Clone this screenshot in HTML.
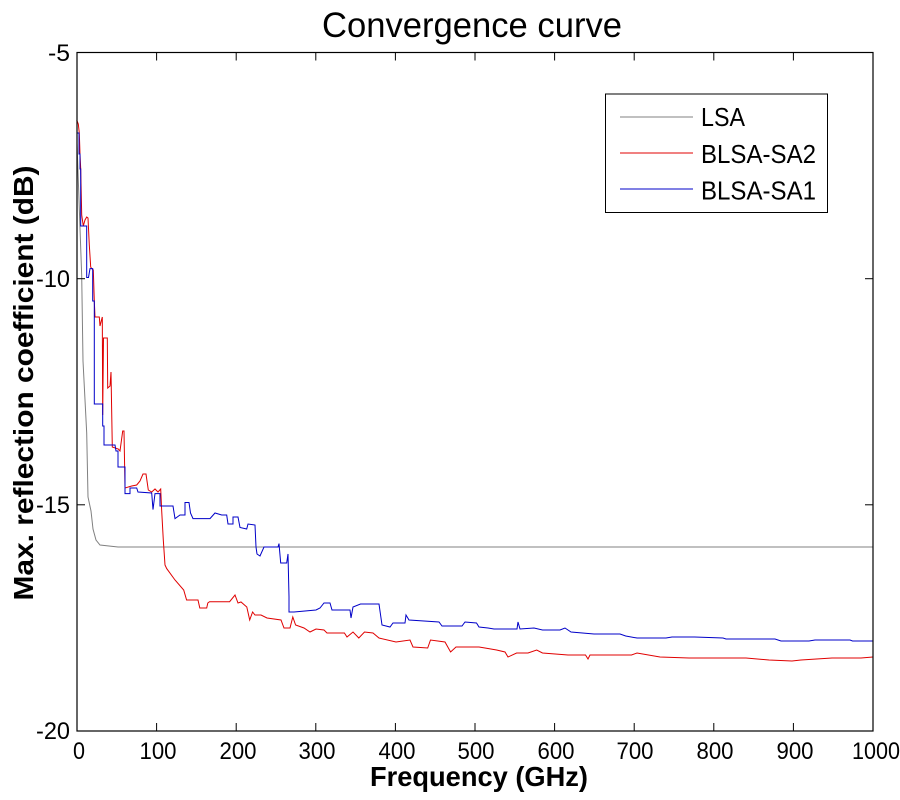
<!DOCTYPE html>
<html><head><meta charset="utf-8"><style>html,body{margin:0;padding:0;background:#fff}svg{display:block}</style></head>
<body>
<svg width="900" height="800" viewBox="0 0 900 800" xmlns="http://www.w3.org/2000/svg" font-family="Liberation Sans, Arial, sans-serif">
<rect width="900" height="800" fill="#fff"/>
<text x="472" y="37" font-size="35" text-anchor="middle" textLength="300" lengthAdjust="spacingAndGlyphs">Convergence curve</text>
<polyline fill="none" stroke="#808080" stroke-width="1" points="77,143 79,200 81.7,276 83,361 86.7,433 88,497 91,511 93,529 96,540 100,545 118,547 873,547"/>
<polyline fill="none" stroke="#e00000" stroke-width="1" points="76.7,120 78.3,124 79.3,133 80,154 80.7,168.6 81.7,215 83.3,226 85,220 86.7,217 88,218 89.3,245 90.7,267 91.7,268.6 93.3,270 94.3,301 95,317 99.3,317 100,326 101.5,320 102.3,317 102.7,415 103.5,338 107.3,338 107.7,388 110,386 111,372 112.3,447 118.3,449 120,451 122.7,431 124,431 125,488 131.7,486 136.7,485 140,481 143,474 146,474 148.3,490 151.7,492 155,489 158,492 160.7,489 161.7,511 163.3,540 165,565 166.7,568.6 175,580 183.7,590 186.6,600 198,600 199.8,608 206.7,608 207.8,603 209.5,601.7 229.6,601.7 235,595 238,603 241,602 246.8,607 249.7,620 252.6,612 255,615 261,615 267,618 281,620 284,628 290,628 292.8,617 295.6,625 304,628 310,632 316,629 324,630 327,633 344.4,633 347,637 353,632 358.8,638 364.5,632 373,633 379,638 396,642 410,640 413,647 427.7,648 430.5,640 445,642 450.6,652 456,647 479,647 485,648 496.6,650 505,652 508,657 516.6,653 528,653 536.7,650 542.5,653 568,655 585.5,655 588,659 590,655 631.5,655 637,653 660,657 689,658 717.6,658 746,658 769,660 792,661 801,660 832,658 861,658 873,657"/>
<polyline fill="none" stroke="#0000c8" stroke-width="1" points="77,90 77,133 79,133 79,154 80,154 80,169 80.7,169 80.7,226 86.7,226 86.7,277.5 88.5,277.5 90,268.6 92.7,268.6 92.7,301 94.3,301 94.3,404 102.7,404 102.7,426 104,426 104,445 115,445 116,451 118,451 118,467 125,467 125,493.6 130,493.6 130,488 136.7,488 138,492 151.7,493 153,509.6 155,493.6 160,493.6 160,506 173,506 175,518.6 180,515 185,515 185,502.5 189,502.5 190.5,513 193,518.6 210,518.6 215,513 221.7,515 226.7,515 228,524 233,524 233,517 238,517 240,527.5 246.7,529 248,524 255,525 256,547 257,554 260,556 264,547 278,547 279,543.6 280.7,563 286.7,563 288,554 289,597 289,612 294,612 316,610 320,608 324,603 330,603 332,610 350,610 351,618 353,607 360.5,604 379,604 382,625 390,627 393,623 405,623 406,615 409,620 439,622 442,626 462,626 465,622 476.5,623 479,627 488,628 494,629 517,629 518,622 520,629 534,628 542.5,630 560,630 565,628 571,632 594,634 620,634 625.7,636 637,638 666,638 672,637 694.6,637 723,638 726,639 775,639 781,641 809,641 815,640 850,640 852.5,641 873,641"/>
<rect x="77" y="52.5" width="796" height="678.5" fill="none" stroke="#000" stroke-width="1.2"/>
<g stroke="#000" stroke-width="1">
<line x1="156.6" y1="731" x2="156.6" y2="723"/><line x1="236.2" y1="731" x2="236.2" y2="723"/><line x1="315.8" y1="731" x2="315.8" y2="723"/><line x1="395.4" y1="731" x2="395.4" y2="723"/><line x1="475" y1="731" x2="475" y2="723"/><line x1="554.6" y1="731" x2="554.6" y2="723"/><line x1="634.2" y1="731" x2="634.2" y2="723"/><line x1="713.8" y1="731" x2="713.8" y2="723"/><line x1="793.4" y1="731" x2="793.4" y2="723"/>
<line x1="156.6" y1="52.5" x2="156.6" y2="60.5"/><line x1="236.2" y1="52.5" x2="236.2" y2="60.5"/><line x1="315.8" y1="52.5" x2="315.8" y2="60.5"/><line x1="395.4" y1="52.5" x2="395.4" y2="60.5"/><line x1="475" y1="52.5" x2="475" y2="60.5"/><line x1="554.6" y1="52.5" x2="554.6" y2="60.5"/><line x1="634.2" y1="52.5" x2="634.2" y2="60.5"/><line x1="713.8" y1="52.5" x2="713.8" y2="60.5"/><line x1="793.4" y1="52.5" x2="793.4" y2="60.5"/>
<line x1="77" y1="278.7" x2="85" y2="278.7"/><line x1="77" y1="504.8" x2="85" y2="504.8"/>
<line x1="873" y1="278.7" x2="865" y2="278.7"/><line x1="873" y1="504.8" x2="865" y2="504.8"/>
</g>
<g font-size="24" text-anchor="middle" lengthAdjust="spacingAndGlyphs">
<text x="79" y="759" textLength="12" lengthAdjust="spacingAndGlyphs">0</text><text x="158" y="759" textLength="37" lengthAdjust="spacingAndGlyphs">100</text><text x="238" y="759" textLength="37" lengthAdjust="spacingAndGlyphs">200</text><text x="317" y="759" textLength="37" lengthAdjust="spacingAndGlyphs">300</text><text x="397" y="759" textLength="37" lengthAdjust="spacingAndGlyphs">400</text><text x="476" y="759" textLength="37" lengthAdjust="spacingAndGlyphs">500</text><text x="556" y="759" textLength="37" lengthAdjust="spacingAndGlyphs">600</text><text x="635" y="759" textLength="37" lengthAdjust="spacingAndGlyphs">700</text><text x="715" y="759" textLength="37" lengthAdjust="spacingAndGlyphs">800</text><text x="795" y="759" textLength="37" lengthAdjust="spacingAndGlyphs">900</text><text x="876" y="759" textLength="48" lengthAdjust="spacingAndGlyphs">1000</text>
</g>
<g font-size="24" text-anchor="end">
<text x="70" y="61" textLength="22" lengthAdjust="spacingAndGlyphs">-5</text><text x="70" y="287" textLength="34" lengthAdjust="spacingAndGlyphs">-10</text><text x="70" y="513" textLength="34" lengthAdjust="spacingAndGlyphs">-15</text><text x="70" y="739" textLength="34" lengthAdjust="spacingAndGlyphs">-20</text>
</g>
<text x="479" y="786" font-size="28" font-weight="bold" text-anchor="middle" textLength="218" lengthAdjust="spacingAndGlyphs">Frequency (GHz)</text>
<text transform="translate(33,383) rotate(-90)" font-size="28" font-weight="bold" text-anchor="middle" textLength="435" lengthAdjust="spacingAndGlyphs">Max. reflection coefficient (dB)</text>
<rect x="605.5" y="94" width="222" height="118.5" fill="#fff" stroke="#000" stroke-width="1"/>
<line x1="620" y1="117" x2="693" y2="117" stroke="#808080"/>
<line x1="620" y1="153" x2="693" y2="153" stroke="#e00000"/>
<line x1="620" y1="189" x2="693" y2="189" stroke="#0000c8"/>
<g font-size="26">
<text x="701" y="126" textLength="44" lengthAdjust="spacingAndGlyphs">LSA</text><text x="701" y="163" textLength="115" lengthAdjust="spacingAndGlyphs">BLSA-SA2</text><text x="701" y="199.5" textLength="115" lengthAdjust="spacingAndGlyphs">BLSA-SA1</text>
</g>
</svg>
</body></html>
